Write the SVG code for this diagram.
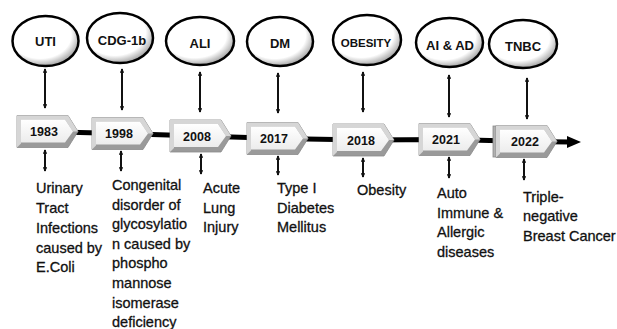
<svg xmlns="http://www.w3.org/2000/svg" width="617" height="329" viewBox="0 0 617 329">
<style>
.ell{fill:url(#eg);stroke:#000;stroke-width:2.5}
.el{font-family:"Liberation Sans",Arial,sans-serif;font-weight:bold;font-size:13px;text-anchor:middle;fill:#111}
.yr{font-family:"Liberation Sans",Arial,sans-serif;font-weight:bold;font-size:12.5px;text-anchor:middle;fill:#111}
.ds{font-family:"Liberation Sans",Arial,sans-serif;font-size:14.5px;fill:#111;stroke:#111;stroke-width:0.3}
.cn{stroke:#111;stroke-width:2;fill:none;marker-start:url(#ah);marker-end:url(#ah)}
.tl{stroke:#000;stroke-width:5;fill:none}
</style>
<defs>
<radialGradient id="eg" cx="0.42" cy="0.38" r="0.65">
<stop offset="0.72" stop-color="#fff"/>
<stop offset="1" stop-color="#9a9a9a"/>
</radialGradient>
<linearGradient id="fg" x1="0" y1="0" x2="0" y2="1">
<stop offset="0" stop-color="#fff"/>
<stop offset="1" stop-color="#ececec"/>
</linearGradient>
<marker id="ah" viewBox="0 0 6 6" refX="5" refY="3" markerWidth="2.3" markerHeight="2.3" orient="auto-start-reverse" markerUnits="strokeWidth">
<path d="M0,0 L6,3 L0,6 z" fill="#111"/>
</marker>
<g id="yb">
<path d="M0,0 L51,0 L61,16 L51,32 L0,32 z" fill="#9a9a9a" stroke="#8a8a8a" stroke-width="0.8"/>
<path d="M0,0 L51,0 L61,16 L56,16 L48,4 L4,4 L4,28 L0,32 z" fill="#d6d6d6"/>
<path d="M4,4 L48,4 L56,16 L48,27 L4,27 z" fill="url(#fg)"/>
</g>
</defs>

<g id="connectors">
<polyline class="tl" points="40,131.5 120,133.5 200,136 278,138.5 363,140 449,139.5 525,141.5 570,142"/>
<path d="M567,136 L581,142 L567,148 z" fill="#000"/>
<line class="cn" x1="45" y1="69" x2="45" y2="108"/>
<line class="cn" x1="122" y1="69" x2="122" y2="110"/>
<line class="cn" x1="200" y1="72" x2="200" y2="112"/>
<line class="cn" x1="278" y1="73" x2="278" y2="113"/>
<line class="cn" x1="363" y1="72" x2="363" y2="112"/>
<line class="cn" x1="449" y1="75" x2="449" y2="117"/>
<line class="cn" x1="527" y1="78" x2="527" y2="119"/>
<line class="cn" x1="45" y1="150" x2="45" y2="171"/>
<line class="cn" x1="121" y1="151" x2="121" y2="171"/>
<line class="cn" x1="201" y1="154" x2="201" y2="174"/>
<line class="cn" x1="278" y1="156" x2="278" y2="175"/>
<line class="cn" x1="363" y1="158" x2="363" y2="177"/>
<line class="cn" x1="449" y1="157" x2="449" y2="178"/>
<line class="cn" x1="524" y1="159" x2="524" y2="180"/>
</g>

<g id="n-uti"><ellipse class="ell" cx="45.5" cy="41" rx="33" ry="25"/><text class="el" x="45.5" y="45.5">UTI</text></g>
<g id="n-cdg"><ellipse class="ell" cx="120" cy="38" rx="33" ry="25"/><text class="el" x="122" y="44.5">CDG-1b</text></g>
<g id="n-ali"><ellipse class="ell" cx="200" cy="41" rx="34" ry="24"/><text class="el" x="200" y="48">ALI</text></g>
<g id="n-dm"><ellipse class="ell" cx="280" cy="41.5" rx="33" ry="24.5"/><text class="el" x="280" y="47.5">DM</text></g>
<g id="n-obesity"><ellipse class="ell" cx="367" cy="40" rx="34" ry="25"/><text class="el" x="366" y="46.5" style="font-size:11.5px">OBESITY</text></g>
<g id="n-aiad"><ellipse class="ell" cx="449.5" cy="42.5" rx="33.5" ry="24.5"/><text class="el" x="450" y="49.5">AI &amp; AD</text></g>
<g id="n-tnbc"><ellipse class="ell" cx="523" cy="44" rx="34" ry="24"/><text class="el" x="523" y="50.5">TNBC</text></g>

<g id="y1983"><use href="#yb" x="17" y="115.5"/><text class="yr" x="44" y="136">1983</text></g>
<g id="y1998"><use href="#yb" x="92" y="117.5"/><text class="yr" x="119" y="138">1998</text></g>
<g id="y2008"><use href="#yb" x="170" y="120"/><text class="yr" x="197" y="141">2008</text></g>
<g id="y2017"><use href="#yb" x="247" y="122.5"/><text class="yr" x="274" y="143">2017</text></g>
<g id="y2018"><use href="#yb" x="333" y="124"/><text class="yr" x="361" y="145">2018</text></g>
<g id="y2021"><use href="#yb" x="419" y="123.5"/><text class="yr" x="446" y="144">2021</text></g>
<g id="y2022"><rect x="493" y="126" width="6" height="31" fill="#b0b0b0" stroke="#8a8a8a" stroke-width="0.8"/><use href="#yb" x="496" y="125.5"/><text class="yr" x="525" y="146">2022</text></g>

<g id="d1983"><text class="ds"><tspan x="36" y="193">Urinary</tspan><tspan x="36" y="213">Tract</tspan><tspan x="36" y="233">Infections</tspan><tspan x="36" y="253">caused by</tspan><tspan x="36" y="272">E.Coli</tspan></text></g>
<g id="d1998"><text class="ds"><tspan x="112" y="190">Congenital</tspan><tspan x="112" y="210">disorder of</tspan><tspan x="112" y="229">glycosylatio</tspan><tspan x="112" y="249">n caused by</tspan><tspan x="112" y="268">phospho</tspan><tspan x="112" y="288">mannose</tspan><tspan x="112" y="308">isomerase</tspan><tspan x="112" y="327">deficiency</tspan></text></g>
<g id="d2008"><text class="ds"><tspan x="203" y="193">Acute</tspan><tspan x="203" y="213">Lung</tspan><tspan x="203" y="232">Injury</tspan></text></g>
<g id="d2017"><text class="ds"><tspan x="277" y="193">Type I</tspan><tspan x="277" y="213">Diabetes</tspan><tspan x="277" y="232">Mellitus</tspan></text></g>
<g id="d2018"><text class="ds"><tspan x="357" y="195">Obesity</tspan></text></g>
<g id="d2021"><text class="ds"><tspan x="437" y="198">Auto</tspan><tspan x="437" y="218">Immune &amp;</tspan><tspan x="437" y="237">Allergic</tspan><tspan x="437" y="257">diseases</tspan></text></g>
<g id="d2022"><text class="ds"><tspan x="523" y="202">Triple-</tspan><tspan x="523" y="221">negative</tspan><tspan x="523" y="241">Breast Cancer</tspan></text></g>
</svg>
